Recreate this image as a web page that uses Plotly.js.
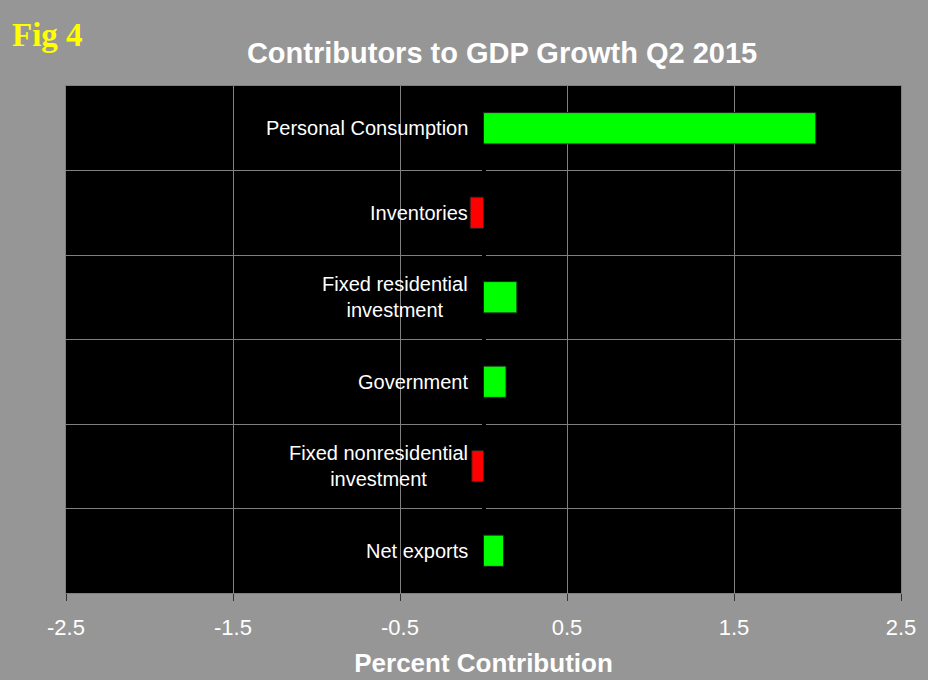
<!DOCTYPE html>
<html><head><meta charset="utf-8">
<script src="https://cdn.plot.ly/plotly-3.0.1.min.js"></script>
<style>html,body{margin:0;padding:0;background:#969696;}#chart{width:928px;height:680px;}</style>
</head><body><div id="chart"></div>
<script>
const categories = ["Personal Consumption", "Inventories", "Fixed residential investment", "Government", "Fixed nonresidential investment", "Net exports"];
const labelText = ["Personal Consumption", "Inventories", "Fixed residential<br>investment", "Government", "Fixed nonresidential<br>investment", "Net exports"];
const values = [1.99, -0.08, 0.20, 0.135, -0.07, 0.12];
const xTicks = [-2.5, -1.5, -0.5, 0.5, 1.5, 2.5];

const colors = values.map(v => v >= 0 ? "#00ff00" : "#ff0000");

const trace = {
  type: "bar", orientation: "h",
  x: values, y: categories,
  width: 0.37,
  marker: {color: colors, line: {color: "#202020", width: 1}},
  hoverinfo: "x+y"
};

const annotations = categories.map((c, i) => ({
  x: 0, y: c, xref: "x", yref: "y",
  text: labelText[i], showarrow: false,
  xanchor: "right", yanchor: "middle", xshift: -14, align: "center",
  font: {family: "Liberation Sans, Arial, sans-serif", size: 20, color: "#ffffff"}
}));
annotations.push({
  xref: "paper", yref: "paper", x: -0.067, y: 1.10, xanchor: "left", yanchor: "middle",
  text: "<b>Fig 4</b>", showarrow: false,
  font: {family: "Liberation Serif, Times New Roman, serif", size: 33, color: "#ffff00"}
});

const layout = {
  width: 928, height: 680,
  paper_bgcolor: "#969696", plot_bgcolor: "#000000",
  margin: {l: 66, r: 27, t: 86, b: 87},
  showlegend: false,
  title: {
    text: "<b>Contributors to GDP Growth Q2 2015</b>",
    x: 0.541, xanchor: "center", y: 0.923, yanchor: "middle",
    font: {family: "Liberation Sans, Arial, sans-serif", size: 29, color: "#ffffff"}
  },
  xaxis: {
    range: [-2.5, 2.5], tickvals: xTicks, ticktext: xTicks.map(String),
    showgrid: true, gridcolor: "#808080", gridwidth: 1,
    zeroline: true, zerolinecolor: "#000000", zerolinewidth: 4,
    ticks: "outside", ticklen: 7, tickcolor: "#333333", tickwidth: 1,
    ticklabelstandoff: 8,
    showline: true, linecolor: "#808080", mirror: true,
    tickfont: {family: "Liberation Sans, Arial, sans-serif", size: 22, color: "#ffffff"},
    title: {text: "<b>Percent Contribution</b>", standoff: 14,
      font: {family: "Liberation Sans, Arial, sans-serif", size: 26, color: "#ffffff"}},
    fixedrange: true
  },
  yaxis: {
    type: "category", categoryarray: categories, autorange: "reversed",
    tickson: "boundaries", showgrid: true, gridcolor: "#808080", gridwidth: 1,
    showticklabels: false, ticks: "",
    showline: true, linecolor: "#808080", mirror: true,
    fixedrange: true
  },
  annotations: annotations,
  bargap: 0.63
};

Plotly.newPlot("chart", [trace], layout, {displayModeBar: false, staticPlot: true});
</script></body></html>
